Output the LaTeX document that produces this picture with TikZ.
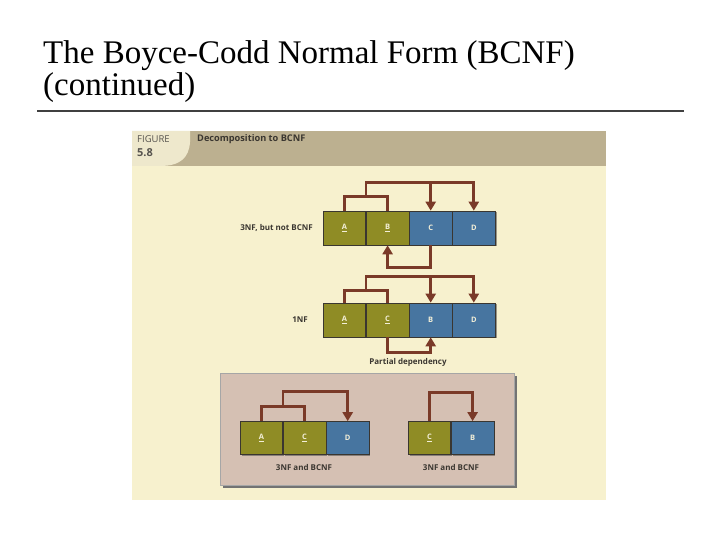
\documentclass[tikz,border=0pt]{standalone}
\usepackage{fontspec}
\setmainfont{Liberation Serif}
\newfontfamily\figfont{Open Sans}
\usetikzlibrary{positioning,arrows.meta,shadows}
\definecolor{paper}{HTML}{F7F1CE}
\definecolor{band}{HTML}{BCB090}
\definecolor{tab}{HTML}{EEE8CC}
\definecolor{olive}{HTML}{8F8C25}
\definecolor{steel}{HTML}{4775A0}
\definecolor{rust}{HTML}{7A3A28}
\definecolor{pane}{HTML}{D5C0B3}
\definecolor{cream}{HTML}{F3EFD8}
\definecolor{ink}{HTML}{3A3630}
\tikzset{
  cell/.style ={draw=ink, line width=0.6pt, minimum width=42.5pt, minimum height=34pt,
                inner sep=0pt, text=cream, font=\figfont\bfseries\fontsize{7.5}{9}\selectfont,
                drop shadow={shadow xshift=1.5pt, shadow yshift=-1.5pt, fill=black!70, opacity=.55}},
  key/.style  ={cell, fill=olive},
  attr/.style ={cell, fill=steel},
  lbl/.style  ={font=\figfont\bfseries\fontsize{8}{9}\selectfont, text=ink, inner sep=0pt},
  ttl/.style  ={font=\fontsize{33}{33}\selectfont, inner sep=0pt},
  ln/.style   ={draw=rust, line width=2.8pt},
  fl/.style   ={ln, -{Triangle[length=9pt,width=10pt]}}
}

\begin{document}
\begin{tikzpicture}[x=1pt,y=1pt]
  \useasboundingbox[fill=white] (0,0) rectangle (720,540);

  % slide title
  \node[ttl, anchor=base west] (t1) at (43,476) {The Boyce-Codd Normal Form (BCNF)};
  \node[ttl, anchor=base west] (t2) at (43,444) {(continued)};
  \draw[line width=1.6pt, black!75] (37,429) -- (684,429);

  % figure frame and header
  \fill[paper] (132,40) rectangle (606,409);
  \fill[band] (132,374) rectangle (606,409);
  \fill[tab] (132,374) -- (132,409) -- (190,409) -- (190,398)
        .. controls (189,382) and (180,374) .. (160,374) -- cycle;
  \node[lbl, anchor=west, font=\figfont\fontsize{9.5}{10}\selectfont, text=ink!85] (fig) at (137,401) {FIGURE};
  \node[lbl, anchor=west, font=\figfont\bfseries\fontsize{11}{12}\selectfont, text=ink!85] (num) at (137,387) {5.8};
  \node[lbl, anchor=west, font=\figfont\bfseries\fontsize{9.2}{10}\selectfont] (cap) at (197,401) {Decomposition to BCNF};

  % 3NF, but not BCNF
  \node[key] (a1) at (344.5,312) {\underline{A}};
  \node[key,  right=0pt of a1] (b1) {\underline{B}};
  \node[attr, right=0pt of b1] (c1) {C};
  \node[attr, right=0pt of c1] (d1) {D};
  \node[lbl, anchor=east] (r1) at (313,312) {3NF, but not BCNF};

  \draw[ln] (a1.north) -- ++(0,14) -| (b1.north);
  \draw[fl] ([yshift=14pt]a1.north east) |- ([yshift=28pt]d1.north) -- (d1.north);
  \draw[fl] ([yshift=28pt]c1.north) -- (c1.north);
  \draw[fl] (c1.south) -- ++(0,-22) -| (b1.south);

  % 1NF
  \node[key] (a2) at (344.5,220) {\underline{A}};
  \node[key,  right=0pt of a2] (c2) {\underline{C}};
  \node[attr, right=0pt of c2] (b2) {B};
  \node[attr, right=0pt of b2] (d2) {D};
  \node[lbl, anchor=east] (r2) at (308,220) {1NF};

  \draw[ln] (a2.north) -- ++(0,12) -| (c2.north);
  \draw[fl] ([yshift=12pt]a2.north east) |- ([yshift=26pt]d2.north) -- (d2.north);
  \draw[fl] ([yshift=26pt]b2.north) -- (b2.north);
  \draw[fl] (c2.south) -- ++(0,-15) -| (b2.south);
  \node[lbl] (pd) at (408,178) {Partial dependency};

  % decomposed tables
  \fill[black!55] (223,52) rectangle (517,164);
  \filldraw[fill=pane, draw=black!35, line width=0.4pt] (220,55) rectangle (514,167);

  \node[key, minimum height=33pt] (a3) at (261.5,102) {\underline{A}};
  \node[key,  minimum height=33pt, right=0pt of a3] (c3) {\underline{C}};
  \node[attr, minimum height=33pt, right=0pt of c3] (d3) {D};
  \node[lbl] (r3) at (304,72) {3NF and BCNF};

  \draw[ln] (a3.north) -- ++(0,15) -| (c3.north);
  \draw[fl] ([yshift=15pt]a3.north east) |- ([yshift=30pt]d3.north) -- (d3.north);

  \node[key, minimum height=33pt] (c4) at (429.5,102) {\underline{C}};
  \node[attr, minimum height=33pt, right=0pt of c4] (b4) {B};
  \node[lbl] (r4) at (451,72) {3NF and BCNF};

  \draw[fl] (c4.north) -- ++(0,29) -| (b4.north);
\end{tikzpicture}
\end{document}
